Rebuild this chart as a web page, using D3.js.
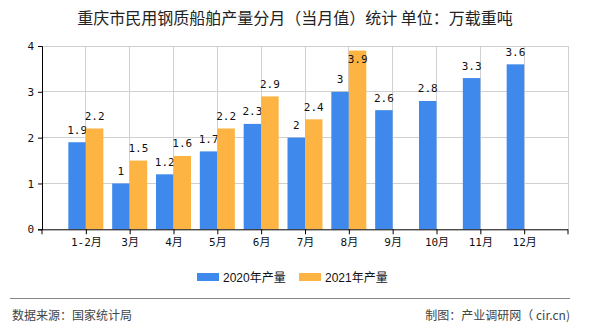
<!DOCTYPE html>
<html><head><meta charset="utf-8">
<script src="https://cdn.jsdelivr.net/npm/d3@7"></script>
<style>
html,body{margin:0;padding:0;background:#fff;}
svg{display:block;}
</style>
</head><body>
<svg id="c" width="590" height="330"></svg>
<script>
const categories = ["1-2月","3月","4月","5月","6月","7月","8月","9月","10月","11月","12月"];
const series2020 = [1.9,1,1.2,1.7,2.3,2,3,2.6,2.8,3.3,3.6];
const series2021 = [2.2,1.5,1.6,2.2,2.9,2.4,3.9,null,null,null,null];
const seriesNames = ["2020年产量","2021年产量"];
const yTicks = [0,1,2,3,4];
const titleText = "重庆市民用钢质船舶产量分月（当月值）统计  单位：万载重吨";
const sourceText = "数据来源：国家统计局";
const creditText = "制图：产业调研网（ cir.cn)";

const colors = ["#4089ec","#fdb443"];
const svg = d3.select("#c");
const L = 42, R = 568, T = 46, B = 229.3;
const step = (R - L) / 12;
const x = d3.scalePoint().domain(categories).range([L + step, R - step]);
const y = d3.scaleLinear().domain([0,4]).range([B, T]);
const bw = 17.5;
const numFont = "'DejaVu Sans Mono','Noto Sans CJK SC',monospace";
const cjkFont = "'Noto Sans CJK SC','DejaVu Sans',sans-serif";

// title
svg.append("text").attr("x",295).attr("y",24).attr("text-anchor","middle")
  .attr("font-family",cjkFont).attr("font-size",16).attr("fill","#222").text(titleText);

// gridlines
const g = svg.append("g");
g.selectAll("line.h").data(yTicks.slice(1)).enter().append("line")
  .attr("x1",L).attr("x2",R).attr("y1",d=>y(d)).attr("y2",d=>y(d))
  .attr("stroke","#d0d0d0").attr("stroke-width",1).attr("shape-rendering","crispEdges");
const vpos = categories.map(c=>x(c)).concat([R]);
g.selectAll("line.v").data(vpos).enter().append("line")
  .attr("x1",d=>d).attr("x2",d=>d).attr("y1",T).attr("y2",B)
  .attr("stroke","#d0d0d0").attr("stroke-width",1).attr("shape-rendering","crispEdges");

// bars
const data = categories.map((c,i)=>({c, v:[series2020[i], series2021[i]]}));
[0,1].forEach(s=>{
  const rows = data.filter(d=>d.v[s]!=null);
  svg.append("g").selectAll("rect").data(rows).enter().append("rect")
    .attr("x",d=> s===0 ? x(d.c)-bw : x(d.c))
    .attr("width",bw)
    .attr("y",d=>y(d.v[s]))
    .attr("height",d=>B - y(d.v[s]))
    .attr("fill",colors[s]);
  svg.append("g").selectAll("text").data(rows).enter().append("text")
    .attr("x",d=> s===0 ? x(d.c)-bw/2 : x(d.c)+bw/2)
    .attr("y",d=>{ const t=y(d.v[s]); return (t-8.5-8 < T) ? t+12.5 : t-8.5; })
    .attr("text-anchor","middle").attr("font-family",numFont).attr("font-size",11)
    .attr("fill","#111").text(d=>d.v[s]);
});

// y axis
const ya = svg.append("g").attr("transform",`translate(${L},0)`)
  .call(d3.axisLeft(y).tickValues(yTicks).tickSize(4).tickFormat(d3.format("d")));
ya.select(".domain").attr("stroke","#000");
ya.selectAll(".tick line").attr("stroke","#000");
ya.selectAll(".tick text").attr("font-family",numFont).attr("font-size",11).attr("fill","#111").attr("x",-8);

// x axis
const xa = svg.append("g").attr("transform",`translate(0,${B})`)
  .call(d3.axisBottom(x).tickSize(5).tickSizeOuter(0));
xa.select(".domain").attr("d",`M${L},0.5H${R}`).attr("stroke","#000");
xa.selectAll(".tick line").attr("stroke","#000");
xa.selectAll(".tick text").attr("font-family",numFont).attr("font-size",11).attr("fill","#111").attr("y",9);
xa.selectAll("line.edge").data([L,R]).enter().append("line").attr("class","edge")
  .attr("x1",d=>d).attr("x2",d=>d).attr("y1",0).attr("y2",5).attr("stroke","#000");

// legend
const lg = svg.append("g");
const lx = [197, 299];
seriesNames.forEach((n,i)=>{
  lg.append("rect").attr("x",lx[i]).attr("y",273).attr("width",22).attr("height",8).attr("fill",colors[i]);
  lg.append("text").attr("x",lx[i]+26).attr("y",282).attr("font-family","'Liberation Sans','Noto Sans CJK SC',sans-serif")
    .attr("font-size",12).attr("fill","#111").text(n);
});

// footer
svg.append("line").attr("x1",10).attr("x2",570).attr("y1",298.5).attr("y2",298.5).attr("stroke","#888").attr("stroke-width",1);
svg.append("text").attr("x",12).attr("y",320).attr("font-family",cjkFont).attr("font-size",12).attr("fill","#444").text(sourceText);
svg.append("text").attr("x",570).attr("y",320).attr("text-anchor","end").attr("font-family",cjkFont).attr("font-size",12).attr("fill","#444").text(creditText);
</script>
</body></html>
